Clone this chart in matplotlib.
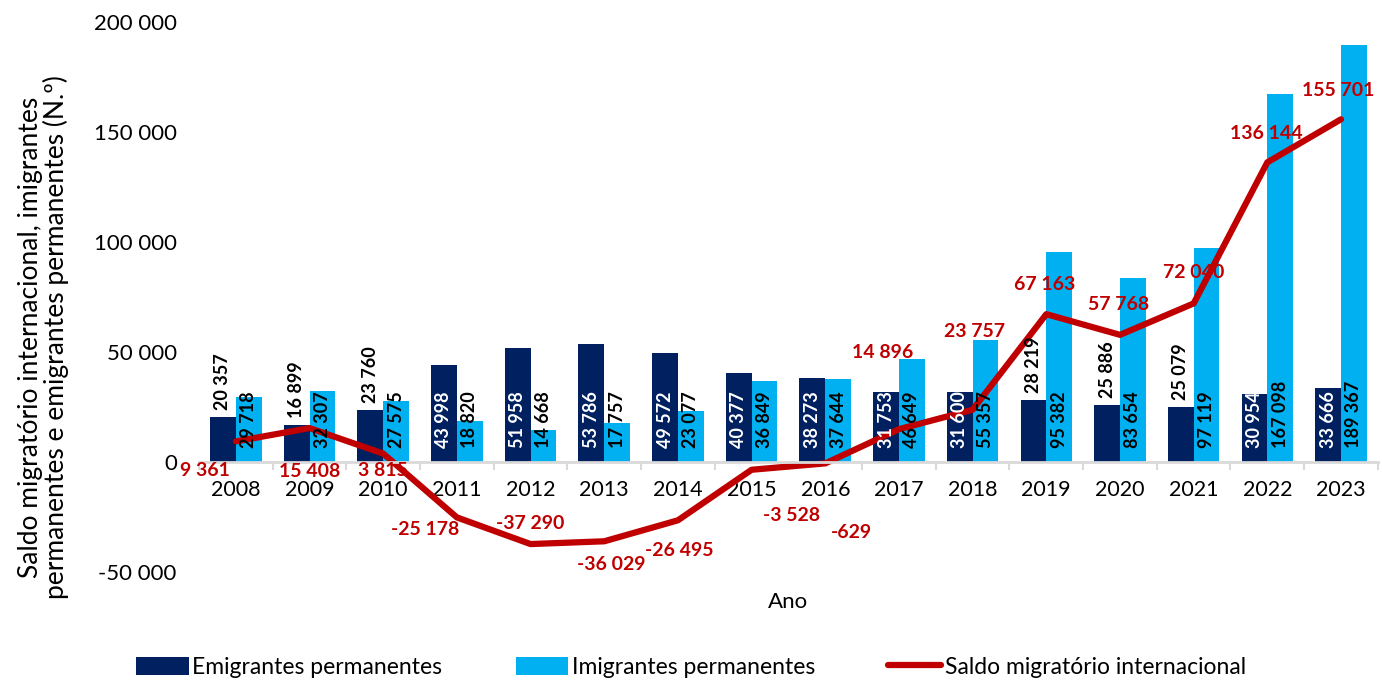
import numpy as np
import matplotlib
matplotlib.use("Agg")
from matplotlib import pyplot as plt
from matplotlib.ticker import FuncFormatter, FixedLocator


years = [str(y) for y in range(2008, 2024)]
emigrantes = [20357, 16899, 23760, 43998, 51958, 53786, 49572, 40377,
              38273, 31753, 31600, 28219, 25886, 25079, 30954, 33666]
imigrantes = [29718, 32307, 27575, 18820, 14668, 17757, 23077, 36849,
              37644, 46649, 55357, 95382, 83654, 97119, 167098, 189367]
saldo = [9361, 15408, 3815, -25178, -37290, -36029, -26495, -3528,
         -629, 14896, 23757, 67163, 57768, 72040, 136144, 155701]

# emigrant labels above the bar (black) for these years, inside (white) otherwise
emig_above = {"2008", "2009", "2010", "2019", "2020", "2021"}
# label offsets (points) for the red line labels
saldo_offsets = [(-22, -21), (0, -31), (0, -12), (-23, -9), (0, 15), (5, -17),
                 (1, -22), (29, -33), (19, -50), (-12, 55), (1, 56), (-1, 21),
                 (-1, 22), (0, 22), (-1, 21), (-2, 21)]

NAVY = "#002060"
BLUE = "#00B0F0"
RED = "#C00000"


def fmt(v):
    return f"{int(v):,}".replace(",", " ")


plt.rcParams['font.family'] = ['Lato', 'DejaVu Sans']

fig = plt.figure(figsize=(13.82, 6.81), dpi=100)
ax = fig.add_axes([0.144, 0.16, 0.853, 0.808])

x = np.arange(len(years))
w = 0.35
b1 = ax.bar(x - w / 2, emigrantes, w, color=NAVY, label="Emigrantes permanentes")
b2 = ax.bar(x + w / 2, imigrantes, w, color=BLUE, label="Imigrantes permanentes")
ln, = ax.plot(x, saldo, color=RED, lw=4.5, solid_capstyle="round",
              label="Saldo migratório internacional")

lab_kw = dict(textcoords="offset points", rotation=90, ha="center",
              va="bottom", fontsize=13, fontweight="bold")
for i, yr in enumerate(years):
    if yr in emig_above:
        ax.annotate(fmt(emigrantes[i]), (x[i] - w / 2, emigrantes[i]),
                    xytext=(0, 5), color="black", **lab_kw)
    else:
        ax.annotate(fmt(emigrantes[i]), (x[i] - w / 2, 0),
                    xytext=(0, 10), color="white", **lab_kw)
    ax.annotate(fmt(imigrantes[i]), (x[i] + w / 2, 0),
                xytext=(0, 10), color="black", **lab_kw)
    dx, dy = saldo_offsets[i]
    ax.annotate(fmt(saldo[i]), (x[i], saldo[i]), xytext=(dx, dy),
                textcoords="offset points", ha="center", va="center",
                fontsize=14, fontweight="bold", color=RED)

ax.set_ylim(-50000, 200000)
ax.set_xlim(-0.5, len(years) - 0.5)
ax.set_yticks(np.arange(-50000, 200001, 50000))
ax.yaxis.set_major_formatter(FuncFormatter(lambda v, p: fmt(v)))
ax.tick_params(axis="y", length=0, labelsize=16, pad=16)

ax.set_xticks(x)
ax.set_xticklabels(years)
ax.xaxis.set_minor_locator(FixedLocator(np.arange(-0.5, len(years), 1.0)))
ax.tick_params(axis="x", which="major", length=0, labelsize=15.5, pad=13)
ax.tick_params(axis="x", which="minor", length=6, color="#D9D9D9", width=1.5)

for s in ["top", "right", "left"]:
    ax.spines[s].set_visible(False)
ax.spines["bottom"].set_position(("data", 0))
ax.spines["bottom"].set_color("#D9D9D9")
ax.spines["bottom"].set_linewidth(2)

ax.set_xlabel("Ano", fontsize=16, labelpad=66)
ax.set_ylabel("Saldo migratório internacional, imigrantes\n"
              "permanentes e emigrantes permanentes (N.º)", fontsize=19,
              linespacing=1.0)
ax.yaxis.label.set_va("center")
ax.yaxis.set_label_coords(-0.132, 0.427)

ax.legend(handles=[b1, b2, ln], loc="center", bbox_to_anchor=(0.5, 0.02),
          bbox_transform=fig.transFigure, ncol=3, frameon=False,
          fontsize=16.5, handlelength=2.3, handleheight=0.87,
          handletextpad=0.15, columnspacing=3.2)

fig.savefig("out.png", dpi=100)
